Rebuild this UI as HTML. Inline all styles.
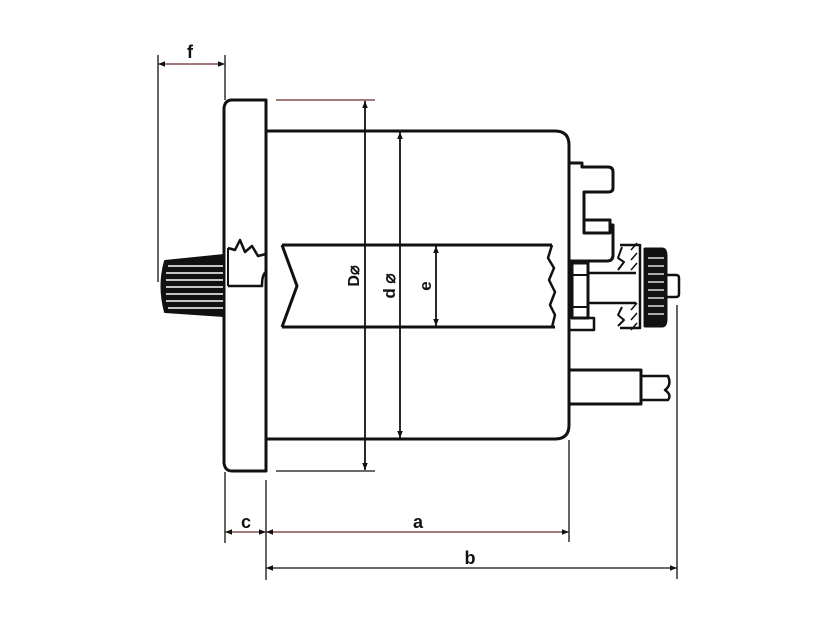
<!DOCTYPE html>
<html><head><style>
html,body{margin:0;padding:0;background:#fff;}
svg{display:block;}
text{font-family:"Liberation Sans",sans-serif;font-weight:bold;fill:#111;}
</style></head><body>
<svg width="837" height="628" viewBox="0 0 837 628" xmlns="http://www.w3.org/2000/svg">
<defs>
<marker id="ar" viewBox="0 0 10 10" refX="10" refY="5" markerWidth="15" markerHeight="7" markerUnits="userSpaceOnUse" orient="auto-start-reverse">
<path d="M0,1 L10,5 L0,9 Z" fill="#111"/>
</marker>
</defs>
<g fill="none" stroke="#111" stroke-width="3" stroke-linejoin="round">
<path d="M266,100 L232,100 Q225,100 224,108 L224,463 Q225,471 232,471 L266,471 Z" fill="#fff"/>
<path d="M266,131 L555,131 Q569,131 569,145 L569,425 Q569,439 555,439 L266,439"/>
<path d="M282,245 L552,245 M282,327 L555,327"/>
<path d="M282,245 L297,286 L282,327"/>
<path d="M552,245 L548,258 L554,268 L549,280 L555,292 L550,305 L555,315 L552,327" stroke-width="2.5"/>
<path d="M228,248 L235,250 L240,240 L245,252 L252,246 L258,256 L266,254" stroke-width="2.5"/>
<path d="M228,286 L262,286 Q262,274 266,272" stroke-width="2.5"/>
<line x1="228" y1="248" x2="228" y2="286" stroke-width="2"/>
<path d="M224,255 L165,261 Q158,286 165,312 L224,316 Z" fill="#111" stroke-width="2"/>
</g>
<g stroke="#fff" stroke-width="1.6">
<line x1="168" y1="266" x2="223" y2="266"/><line x1="166" y1="273" x2="223" y2="273"/>
<line x1="166" y1="280" x2="223" y2="280"/><line x1="166" y1="287" x2="223" y2="287"/>
<line x1="166" y1="294" x2="223" y2="294"/><line x1="166" y1="301" x2="223" y2="301"/>
<line x1="168" y1="308" x2="223" y2="308"/>
</g>
<g fill="none" stroke="#111" stroke-width="3" stroke-linejoin="round">
<path d="M569,163 L582,163 L582,167 L608,167 Q613,167 613,172 L613,188 Q613,192 608,192 L584,192 L584,220 L608,220 L610,220 L610,233 L584,233 L584,220"/>
<path d="M610,225 L613,225 L613,255 Q613,261 607,261 L569,261"/>
<path d="M572,263 L588,263 L588,318 L572,318 Z"/>
<line x1="572" y1="275" x2="588" y2="275" stroke-width="2"/><line x1="572" y1="307" x2="588" y2="307" stroke-width="2"/>
<path d="M588,273 L636,273 M588,303 L636,303" stroke-width="2.5"/>
<path d="M588,318 L594,318 L594,330 L569,330" stroke-width="2.5"/>
<path d="M620,245 L640,245 L640,328 L620,328" stroke-width="2.5"/>
<path d="M622,247 L618,258 L624,262 L618,270" stroke-width="2"/>
<path d="M622,307 L618,315 L624,320 L618,326" stroke-width="2"/>
<path d="M645,249 L662,249 Q666,249 666,256 L666,319 Q666,326 662,326 L645,326 Z" fill="#111"/>
<path d="M666,275 L676,275 Q679,275 679,278 L679,294 Q679,297 676,297 L666,297" stroke-width="2.5"/>
<path d="M569,370 L641,370 L641,404 L569,404" />
<path d="M641,376 L668,376 Q672,385 665,390 Q672,395 668,400 L641,400" stroke-width="2.5"/>
</g>
<g stroke="#fff" stroke-width="1.3">
<line x1="648" y1="258" x2="664" y2="258"/><line x1="648" y1="266" x2="664" y2="266"/>
<line x1="648" y1="274" x2="664" y2="274"/><line x1="648" y1="282" x2="664" y2="282"/>
<line x1="648" y1="290" x2="664" y2="290"/><line x1="648" y1="298" x2="664" y2="298"/>
<line x1="648" y1="306" x2="664" y2="306"/><line x1="648" y1="314" x2="664" y2="314"/>
</g>
<g stroke="#111" stroke-width="1.5">
<line x1="631" y1="250" x2="637" y2="243"/><line x1="631" y1="260" x2="637" y2="253"/>
<line x1="631" y1="270" x2="637" y2="263"/><line x1="631" y1="310" x2="637" y2="303"/>
<line x1="631" y1="320" x2="637" y2="313"/><line x1="631" y1="330" x2="637" y2="323"/>
</g>
<g stroke="#111" stroke-width="1.3" fill="none">
<line x1="158" y1="55" x2="158" y2="282"/>
<line x1="225" y1="55" x2="225" y2="100"/>
<line x1="158" y1="64" x2="225" y2="64" marker-start="url(#ar)" marker-end="url(#ar)" stroke="#6b2a2a"/>
<line x1="276" y1="100" x2="375" y2="100" stroke="#6b2a2a"/>
<line x1="276" y1="471" x2="375" y2="471"/>
<line x1="365" y1="101" x2="365" y2="470" stroke-width="1.8" marker-start="url(#ar)" marker-end="url(#ar)"/>
<line x1="400" y1="132" x2="400" y2="438" stroke-width="1.8" marker-start="url(#ar)" marker-end="url(#ar)"/>
<line x1="436" y1="246" x2="436" y2="326" stroke-width="1.8" marker-start="url(#ar)" marker-end="url(#ar)"/>
<line x1="225" y1="472" x2="225" y2="543"/>
<line x1="266" y1="480" x2="266" y2="580"/>
<line x1="569" y1="440" x2="569" y2="542"/>
<line x1="677" y1="305" x2="677" y2="579"/>
<line x1="225" y1="532" x2="266" y2="532" marker-start="url(#ar)" marker-end="url(#ar)" stroke="#6b2a2a"/>
<line x1="266" y1="532" x2="569" y2="532" marker-start="url(#ar)" marker-end="url(#ar)" stroke="#6b2a2a"/>
<line x1="266" y1="568" x2="677" y2="568" marker-start="url(#ar)" marker-end="url(#ar)"/>
</g>
<text x="190" y="58" font-size="18" text-anchor="middle">f</text>
<text x="246" y="528" font-size="18" text-anchor="middle">c</text>
<text x="418" y="528" font-size="18" text-anchor="middle">a</text>
<text x="470" y="564" font-size="18" text-anchor="middle">b</text>
<text transform="translate(359,276) rotate(-90)" font-size="16" text-anchor="middle" font-weight="normal">D⌀</text>
<text transform="translate(395,286) rotate(-90)" font-size="17" text-anchor="middle">d ⌀</text>
<text transform="translate(431,286) rotate(-90)" font-size="17" text-anchor="middle">e</text>
</svg>
</body></html>
